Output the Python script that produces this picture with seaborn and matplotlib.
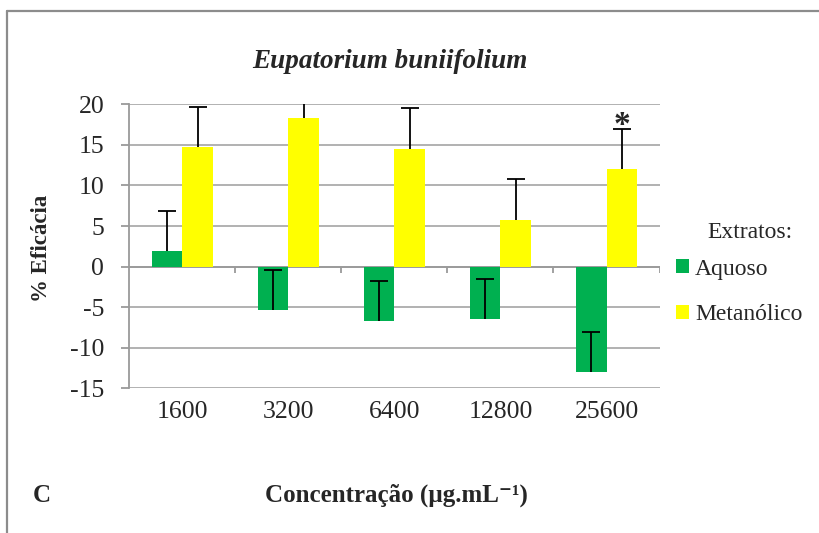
import numpy as np
import pandas as pd
import matplotlib
matplotlib.use("Agg")
import matplotlib.pyplot as plt
from matplotlib.lines import Line2D
import seaborn as sns

# Data: % efficacy by concentration and extract type
concentracoes = ["1600", "3200", "6400", "12800", "25600"]
extratos = ["Aquoso", "Metanólico"]
aquoso = [1.9, -5.3, -6.7, -6.4, -13.0]
metanolico = [14.7, 18.3, 14.5, 5.8, 12.0]
erro_aquoso = [5.0, 4.9, 4.9, 4.9, 4.9]
erro_metanolico = [5.0, 5.0, 5.0, 5.0, 5.0]
significativo = [False, False, False, False, True]  # Metanólico marked with *
yticks = [-15, -10, -5, 0, 5, 10, 15, 20]

cores = {"Aquoso": "#00B050", "Metanólico": "#FFFF00"}
grid_color = "#ABABAB"
axis_color = "#9A9A9A"

sns.set_style("white")
plt.rcParams["font.family"] = ["Liberation Serif", "DejaVu Serif"]
plt.rcParams["axes.unicode_minus"] = False

df = pd.DataFrame({
    "Concentração": concentracoes * 2,
    "Extrato": [extratos[0]] * len(concentracoes) + [extratos[1]] * len(concentracoes),
    "Eficácia": aquoso + metanolico,
})
erros = {extratos[0]: erro_aquoso, extratos[1]: erro_metanolico}

fig = plt.figure(figsize=(8.2, 5.33), dpi=100)
ax = fig.add_axes([0.1577, 0.2715, 0.6466, 0.5328])

sns.barplot(data=df, x="Concentração", y="Eficácia", hue="Extrato",
            order=concentracoes, hue_order=extratos,
            palette=cores, width=0.58, saturation=1, errorbar=None,
            linewidth=0, legend=False, ax=ax, zorder=2)

ax.set_ylim(-15, 20)
ax.set_xlim(-0.5, len(concentracoes) - 0.5)
ax.set_yticks(yticks)
ax.yaxis.grid(True, color=grid_color, linewidth=1.3, zorder=0)
ax.set_axisbelow(True)

# One-sided (plus) error bars with a cap on the outer end
for p in ax.patches:
    h = p.get_height()
    if p.get_width() == 0:
        continue
    cx = p.get_x() + p.get_width() / 2
    idx = int(round(cx))
    fc = p.get_facecolor()
    nome = extratos[0] if fc[2] > 0.1 else extratos[1]
    e = erros[nome][idx]
    ax.errorbar([cx], [h], yerr=[[0], [e]], fmt="none", ecolor="black",
                elinewidth=1.3, capsize=0, zorder=3)
    ax.plot([cx], [h + e], marker="_", markersize=13, markeredgewidth=1.3,
            color="black", linestyle="none", zorder=3)
    if nome == extratos[1] and significativo[idx]:
        ax.annotate("*", xy=(cx, h + e), xytext=(0, -9),
                    textcoords="offset points", ha="center", va="bottom",
                    fontsize=24, fontweight="bold")

# Category axis line at zero with boundary tick marks
ax.axhline(0, color=axis_color, linewidth=1.3, zorder=1)
ax.vlines(np.arange(len(concentracoes)) + 0.5, 0, -0.85,
          color=axis_color, linewidth=1.3, zorder=1)

for side in ["top", "right", "bottom"]:
    ax.spines[side].set_visible(False)
ax.spines["left"].set_color(axis_color)
ax.spines["left"].set_linewidth(1.3)

ax.tick_params(axis="x", length=0, pad=9, labelsize=18.5)
ax.tick_params(axis="y", direction="out", length=6, width=1.3,
               color=axis_color, pad=12, labelsize=18.5, left=True)

ax.set_ylabel("% Eficácia", fontsize=16.5, fontweight="bold")
ax.yaxis.set_label_coords(-0.146, 0.494)
ax.set_xlabel("Concentração (µg.mL⁻¹)", fontsize=18, fontweight="bold")
ax.xaxis.set_label_coords(0.504, -0.335)

fig.text(390 / 820, 1 - 61 / 533, "Eupatorium buniifolium", ha="center",
         va="center", fontsize=19.5, fontweight="bold", fontstyle="italic")
fig.text(42 / 820, 1 - 495 / 533, "C", ha="center", va="center",
         fontsize=18, fontweight="bold")

# Legend: heading plus colour keys
fig.text(750 / 820, 1 - 232 / 533, "Extratos:", ha="center", va="center",
         fontsize=17)
handles = [plt.Rectangle((0, 0), 1, 1, facecolor=cores[n], edgecolor="none")
           for n in extratos]
fig.legend(handles, extratos, loc="center left",
           bbox_to_anchor=(676 / 820, 1 - 292 / 533), frameon=False,
           fontsize=17, handlelength=0.55, handleheight=0.55,
           handletextpad=0.25, labelspacing=1.05,
           borderpad=0, borderaxespad=0)

# Outer frame (left and top edges)
fig.add_artist(Line2D([7 / 820, 7 / 820], [0, 1 - 11 / 533],
                      transform=fig.transFigure, color="#8C8C8C", linewidth=1.6))
fig.add_artist(Line2D([7 / 820, 1], [1 - 11 / 533, 1 - 11 / 533],
                      transform=fig.transFigure, color="#8C8C8C", linewidth=1.6))

fig.savefig("out.png", dpi=100)
